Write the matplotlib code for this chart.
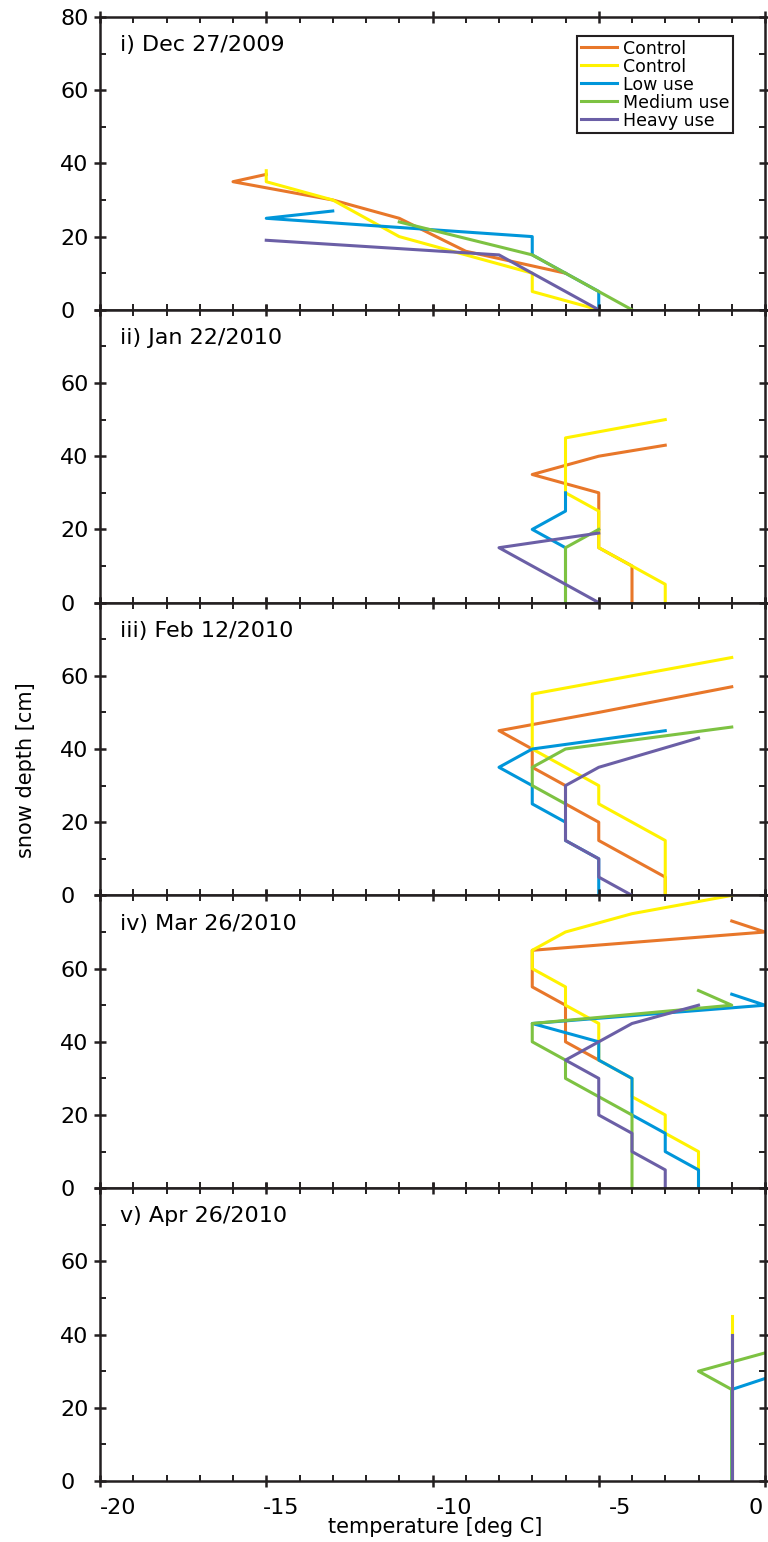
import matplotlib
matplotlib.use("Agg")
import matplotlib.pyplot as plt
import matplotlib.transforms as mtransforms
from matplotlib.ticker import MultipleLocator

OUT_PATH = "out.png"

SERIES_NAMES = ["Control", "Control", "Low use", "Medium use", "Heavy use"]
SERIES_COLORS = ["#E8772A", "#FFF200", "#0096DA", "#7DC242", "#6B5FA6"]
INK = "#231f20"

PANEL_LABELS = [
    "i) Dec 27/2009",
    "ii) Jan 22/2010",
    "iii) Feb 12/2010",
    "iv) Mar 26/2010",
    "v) Apr 26/2010",
]

X_TICKS = [-20, -15, -10, -5, 0]
X_TICK_LABELS = ["-20", "-15", "-10", "-5", "0"]
Y_TICKS = [0, 20, 40, 60, 80]

# (temperature [deg C], snow depth [cm])
dec_control_a = [(-15, 37), (-16, 35), (-13, 30), (-11, 25), (-9, 16), (-6, 10)]
dec_control_b = [(-15, 38), (-15, 35), (-13, 30), (-11, 20), (-7, 10), (-7, 5), (-5, 0)]
dec_low = [(-13, 27), (-15, 25), (-7, 20), (-7, 15), (-6, 10), (-5, 5), (-5, 0)]
dec_medium = [(-11, 24), (-7, 15), (-6, 10), (-5, 5), (-4, 0)]
dec_heavy = [(-15, 19), (-8, 15), (-7, 10), (-6, 5), (-5, 0)]

jan_control_a = [(-3, 43), (-5, 40), (-7, 35), (-5, 30), (-5, 15), (-4, 10), (-4, 0)]
jan_control_b = [(-3, 50), (-6, 45), (-6, 30), (-5, 25), (-5, 15), (-3, 5), (-3, 0)]
jan_low = [(-6, 30), (-6, 25), (-7, 20), (-6, 15), (-6, 0)]
jan_medium = [(-5, 20), (-6, 15), (-6, 0)]
jan_heavy = [(-5, 19), (-8, 15), (-5, 0)]

feb_control_a = [(-1, 57), (-5, 50), (-8, 45), (-7, 40), (-7, 35), (-6, 30), (-6, 25),
                 (-5, 20), (-5, 15), (-3, 5), (-3, 0)]
feb_control_b = [(-1, 65), (-7, 55), (-7, 40), (-5, 30), (-5, 25), (-3, 15), (-3, 0)]
feb_low = [(-3, 45), (-7, 40), (-8, 35), (-7, 30), (-7, 25), (-6, 20), (-6, 15),
           (-5, 10), (-5, 0)]
feb_medium = [(-1, 46), (-6, 40), (-7, 35), (-7, 30), (-6, 25)]
feb_heavy = [(-2, 43), (-5, 35), (-6, 30), (-6, 15), (-5, 10), (-5, 5), (-4, 0)]

mar_control_a = [(-1, 73), (0, 70), (-7, 65), (-7, 55), (-6, 50), (-6, 40), (-5, 35)]
mar_control_b = [(-1, 80), (-4, 75), (-6, 70), (-7, 65), (-7, 60), (-6, 55), (-6, 50),
                 (-5, 45), (-5, 35), (-4, 30), (-4, 25), (-3, 20), (-3, 15), (-2, 10),
                 (-2, 5), (-2, 0)]
mar_low = [(-1, 53), (0, 50), (-7, 45), (-5, 40), (-5, 35), (-4, 30), (-4, 20),
           (-3, 15), (-3, 10), (-2, 5), (-2, 0)]
mar_medium = [(-2, 54), (-1, 50), (-7, 45), (-7, 40), (-6, 35), (-6, 30), (-4, 20), (-4, 0)]
mar_heavy = [(-2, 50), (-4, 45), (-6, 35), (-5, 30), (-5, 20), (-4, 15), (-4, 10),
             (-3, 5), (-3, 0)]

apr_control_a = [(-1, 40), (-1, 0)]
apr_control_b = [(-1, 45), (-1, 0)]
apr_low = [(0, 28), (-1, 25), (-1, 0)]
apr_medium = [(0, 35), (-2, 30), (-1, 25), (-1, 0)]
apr_heavy = [(-1, 40), (-1, 0)]

PANELS = [
    [dec_control_a, dec_control_b, dec_low, dec_medium, dec_heavy],
    [jan_control_a, jan_control_b, jan_low, jan_medium, jan_heavy],
    [feb_control_a, feb_control_b, feb_low, feb_medium, feb_heavy],
    [mar_control_a, mar_control_b, mar_low, mar_medium, mar_heavy],
    [apr_control_a, apr_control_b, apr_low, apr_medium, apr_heavy],
]


def style_axis(ax, top_panel):
    for spine in ax.spines.values():
        spine.set_color(INK)
        spine.set_linewidth(1.8)
    ax.set_xlim(-20, 0)
    ax.set_ylim(0, 80)
    ax.xaxis.set_minor_locator(MultipleLocator(1))
    ax.yaxis.set_minor_locator(MultipleLocator(10))
    ax.set_yticks(Y_TICKS)
    ylabels = ["0", "20", "40", "60", "80" if top_panel else ""]
    ax.set_yticklabels(ylabels, fontsize=16, ha="left")
    ax.tick_params(which="major", direction="inout", length=8, width=1.8,
                   color=INK, top=True, right=True)
    ax.tick_params(which="minor", direction="in", length=4, width=1.4,
                   color=INK, top=True, right=True)
    ax.tick_params(axis="y", which="major", pad=24.8)
    ax.tick_params(axis="x", which="major", pad=8)


def plot_profiles(path=OUT_PATH):
    fig, axes = plt.subplots(5, 1, figsize=(7.68, 15.42), dpi=100, sharex=True)
    fig.subplots_adjust(left=100 / 768, right=765 / 768, top=1 - 17 / 1542,
                        bottom=61 / 1542, hspace=0)

    for i, (ax, label, series) in enumerate(zip(axes, PANEL_LABELS, PANELS)):
        for pts, name, color in zip(series, SERIES_NAMES, SERIES_COLORS):
            temps = [p[0] for p in pts]
            depths = [p[1] for p in pts]
            ax.plot(temps, depths, color=color, lw=2.2, label=name)
        style_axis(ax, i == 0)
        ax.text(0.030, 0.904, label, transform=ax.transAxes, fontsize=16,
                ha="left", va="center", color="black")

    bottom = axes[-1]
    bottom.set_xticks(X_TICKS)
    bottom.set_xticklabels(X_TICK_LABELS, fontsize=16)
    # the original labels sit a little off their ticks
    shifts = [18, 15, 22, 21, -9]
    for lab, dx in zip(bottom.get_xticklabels(), shifts):
        off = mtransforms.ScaledTranslation(dx / 100, 0, fig.dpi_scale_trans)
        lab.set_transform(lab.get_transform() + off)

    leg = axes[0].legend(loc="upper right", bbox_to_anchor=(0.952, 0.935),
                         borderaxespad=0, fontsize=12.5, fancybox=False,
                         edgecolor=INK, handlelength=2.1, handletextpad=0.35,
                         labelspacing=0.0, borderpad=0.2, framealpha=1)
    leg.get_frame().set_linewidth(1.5)

    fig.text(26 / 768, 1 - 770 / 1542, "snow depth [cm]", rotation=90,
             ha="center", va="center", fontsize=15)
    fig.text(435 / 768, 1 - 1527 / 1542, "temperature [deg C]",
             ha="center", va="center", fontsize=15)

    fig.savefig(path, dpi=100)
    plt.close(fig)


def main():
    plot_profiles()


if __name__ == "__main__":
    main()
